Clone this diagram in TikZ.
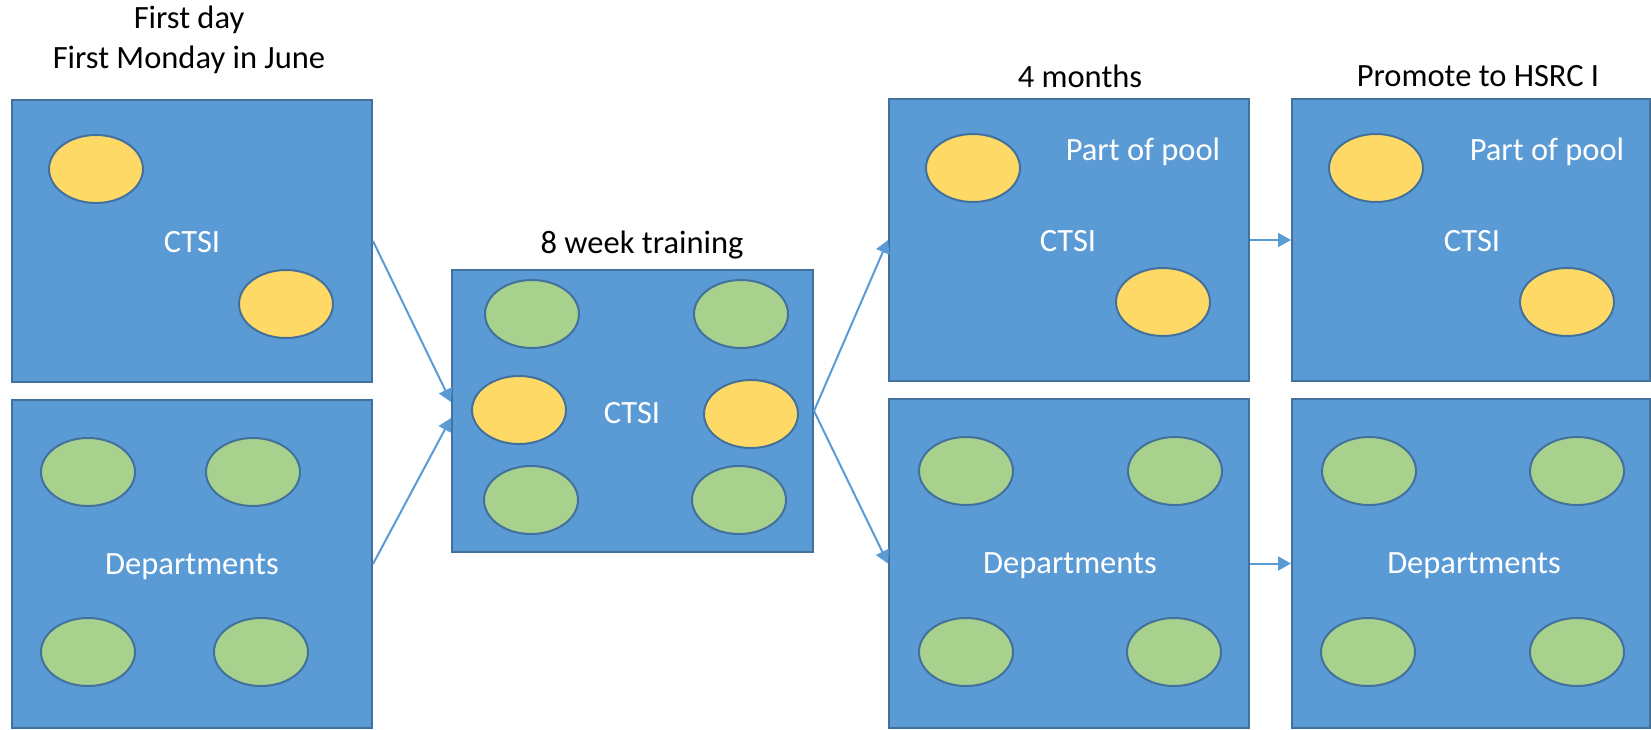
\documentclass[tikz,border=0pt]{standalone}
\usepackage{fontspec}
\setmainfont{Carlito}
\usetikzlibrary{shapes.geometric,arrows.meta}
\definecolor{boxfill}{HTML}{5B9BD5}
\definecolor{boxline}{HTML}{41719C}
\definecolor{yel}{HTML}{FFD966}
\definecolor{grn}{HTML}{A9D18E}
\tikzset{
  panel/.style={draw=boxline, fill=boxfill, line width=2pt, rectangle, inner sep=0pt},
  yellowdot/.style={draw=boxline, fill=yel, line width=2pt, ellipse, minimum width=94pt, minimum height=68pt, inner sep=0pt},
  greendot/.style={draw=boxline, fill=grn, line width=2pt, ellipse, minimum width=94pt, minimum height=68pt, inner sep=0pt},
  intext/.style={text=white, font=\fontsize{32.5}{39}\selectfont, inner sep=0pt},
  title/.style={text=black, font=\fontsize{32.5}{40}\selectfont, align=center, inner sep=0pt},
  conn/.style={draw=boxfill, line width=2pt, -{Triangle[width=14pt,length=13pt]}}
}
\begin{document}
\begin{tikzpicture}[x=1pt,y=-1pt]
\useasboundingbox (0,0) rectangle (1651,729);
% column 1
\node[panel, minimum width=360pt, minimum height=282pt] (b1) at (192,241) {};
\node[panel, minimum width=360pt, minimum height=328pt] (b2) at (192,564) {};
\node[title] (t1) at (189,40) {First day\\First Monday in June};
\node[yellowdot] (y11) at (96,169) {};
\node[yellowdot] (y12) at (286,304) {};
\node[intext] (l1) at (192,242) {CTSI};
\node[greendot] (g21) at (88,472) {};
\node[greendot] (g22) at (253,472) {};
\node[greendot] (g23) at (88,652) {};
\node[greendot] (g24) at (261,652) {};
\node[intext] (l2) at (192,567) {Departments};
% column 2
\node[panel, minimum width=361pt, minimum height=282pt] (b3) at (632.5,411) {};
\node[title] (t3) at (642,245) {8 week training};
\node[greendot] (g31) at (532,314) {};
\node[greendot] (g32) at (741,314) {};
\node[yellowdot] (y31) at (519,410) {};
\node[yellowdot] (y32) at (751,414) {};
\node[greendot] (g33) at (531,500) {};
\node[greendot] (g34) at (739,500) {};
\node[intext] (l3) at (632,413) {CTSI};
% column 3
\node[panel, minimum width=360pt, minimum height=282pt] (b4) at (1069,240) {};
\node[panel, minimum width=360pt, minimum height=329pt] (b5) at (1069,563.5) {};
\node[title] (t4) at (1080,76) {4 months};
\node[yellowdot] (y41) at (973,168) {};
\node[yellowdot] (y42) at (1163,302) {};
\node[intext] (p4) at (1143,152) {Part of pool};
\node[intext] (l4) at (1068,241) {CTSI};
\node[greendot] (g51) at (966,471) {};
\node[greendot] (g52) at (1175,471) {};
\node[greendot] (g53) at (966,652) {};
\node[greendot] (g54) at (1174,652) {};
\node[intext] (l5) at (1070,566) {Departments};
% column 4
\node[panel, minimum width=358pt, minimum height=282pt] (b6) at (1471,240) {};
\node[panel, minimum width=358pt, minimum height=329pt] (b7) at (1471,563.5) {};
\node[title] (t6) at (1478,76) {Promote to HSRC I};
\node[yellowdot] (y61) at (1376,168) {};
\node[yellowdot] (y62) at (1567,302) {};
\node[intext] (p6) at (1547,152) {Part of pool};
\node[intext] (l6) at (1472,241) {CTSI};
\node[greendot] (g71) at (1369,471) {};
\node[greendot] (g72) at (1577,471) {};
\node[greendot] (g73) at (1368,652) {};
\node[greendot] (g74) at (1577,652) {};
\node[intext] (l7) at (1474,566) {Departments};
% connectors
\draw[conn] (b1.east) -- ([yshift=9pt]b3.west);
\draw[conn] (b2.east) -- ([yshift=-7pt]b3.west);
\draw[conn] (b3.east) -- (b4.west);
\draw[conn] (b3.east) -- (b5.west);
\draw[conn] (b4.east) -- (b6.west);
\draw[conn] (b5.east) -- (b7.west);
\end{tikzpicture}
\end{document}
